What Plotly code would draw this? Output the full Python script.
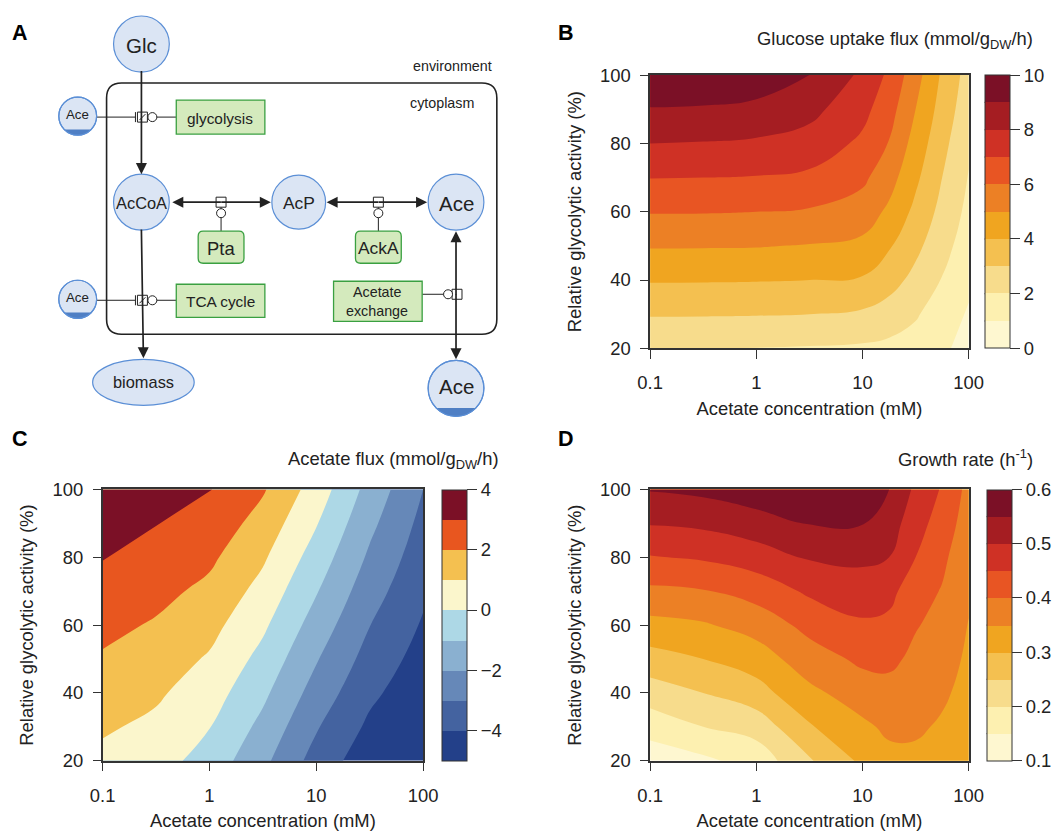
import math
import plotly.graph_objects as go

W, H = 1062, 838
FONT = "Liberation Sans, Arial, sans-serif"
# the page is photographed slightly reduced; pre-compensate positions and sizes
SX, OX, SY, OY = 0.978, 11.0, 0.974, 9.0
FS = 1.0 / 0.976

# ---------------- data ----------------
acetate_mM = [0.1, 0.316, 1, 3.16, 10, 31.6, 100]
acetate_mM_fine = [0.1, 0.316, 1, 3.16, 10, 17.8, 31.6, 56.2, 100]
glyc_activity = [20, 30, 40, 50, 60, 70, 80, 90, 100]
x_tickvals = [0.1, 1, 10, 100]
x_ticktext = ["0.1", "1", "10", "100"]

glucose_uptake = [
    [2.05, 2.02, 1.98, 1.93, 1.85, 1.75, 1.60, 1.20, 0.60],
    [3.08, 3.07, 3.05, 3.00, 2.85, 2.55, 2.10, 1.50, 0.90],
    [4.08, 4.07, 4.05, 4.00, 3.90, 3.40, 2.70, 1.95, 1.20],
    [5.08, 5.07, 5.05, 4.95, 4.75, 4.10, 3.25, 2.35, 1.50],
    [6.06, 6.05, 6.00, 5.90, 5.55, 4.80, 3.75, 2.70, 1.75],
    [7.03, 7.00, 6.95, 6.80, 6.20, 5.40, 4.20, 3.00, 1.95],
    [8.00, 7.95, 7.85, 7.60, 6.80, 5.95, 4.60, 3.30, 2.15],
    [8.95, 8.90, 8.75, 8.30, 7.30, 6.40, 5.00, 3.60, 2.40],
    [9.85, 9.80, 9.60, 9.00, 7.80, 6.80, 5.40, 3.85, 2.60],
]
acetate_flux = [
    [0.75, 0.40, -0.40, -1.75, -3.40, -4.60, -5.20],
    [1.13, 0.78, 0.03, -1.27, -2.91, -4.19, -4.93],
    [1.51, 1.15, 0.46, -0.79, -2.41, -3.79, -4.65],
    [1.89, 1.53, 0.89, -0.31, -1.92, -3.38, -4.38],
    [2.27, 1.90, 1.32, 0.18, -1.43, -2.98, -4.10],
    [2.66, 2.28, 1.76, 0.66, -0.93, -2.57, -3.83],
    [3.04, 2.65, 2.19, 1.14, -0.44, -2.16, -3.55],
    [3.42, 3.03, 2.62, 1.62, 0.06, -1.76, -3.28],
    [3.85, 3.50, 3.05, 2.10, 0.55, -1.35, -3.00],
]
growth_rate = [
    [0.120, 0.140, 0.170, 0.245, 0.310, 0.335, 0.335, 0.325, 0.310],
    [0.170, 0.200, 0.220, 0.295, 0.340, 0.360, 0.360, 0.342, 0.320],
    [0.225, 0.250, 0.280, 0.338, 0.375, 0.385, 0.375, 0.360, 0.330],
    [0.280, 0.300, 0.325, 0.377, 0.410, 0.410, 0.390, 0.375, 0.340],
    [0.335, 0.345, 0.370, 0.415, 0.443, 0.438, 0.403, 0.387, 0.348],
    [0.390, 0.397, 0.420, 0.458, 0.475, 0.465, 0.420, 0.397, 0.358],
    [0.447, 0.456, 0.475, 0.505, 0.510, 0.500, 0.450, 0.410, 0.367],
    [0.503, 0.510, 0.530, 0.552, 0.552, 0.525, 0.470, 0.428, 0.376],
    [0.553, 0.562, 0.578, 0.600, 0.585, 0.550, 0.490, 0.445, 0.385],
]

warm = ["#fef7d0", "#fdf0b0", "#f7dc8c", "#f4c050", "#f0a520",
        "#ec8025", "#e85523", "#cf3125", "#a51d22", "#7b1026"]
divergent = ["#234089", "#4463a0", "#6688b8", "#8ab0d0", "#add8e6",
             "#fbf6cc", "#f4c050", "#e8561f", "#7b1026"]


def steps(colors):
    n = len(colors)
    cs = []
    for i, c in enumerate(colors):
        cs.append([i / n, c])
        cs.append([(i + 1) / n, c])
    return cs


def fx(x):
    return ((x - OX) / SX) / W


def fy(y):
    return 1 - ((y - OY) / SY) / H


def px(x, y):
    return fx(x), fy(y)


def fs(s):
    return round(s * FS, 1)


fig = go.Figure()
shapes = []
annots = []

boxes = {
    "B": (651, 971, 73, 346),
    "C": (101, 423, 487, 758),
    "D": (651, 971, 487, 758),
}
cbx = {"B": 987, "C": 442, "D": 989}
CBW = 24


def add_panel(key, axn, xs, z, colors, zmin, zmax, size, tickvals, ticktext):
    x0, x1, yt, yb = boxes[key]
    suffix = "" if axn == 1 else str(axn)
    fig.add_trace(go.Contour(
        x=xs, y=glyc_activity, z=z,
        xaxis="x" + suffix, yaxis="y" + suffix,
        zmin=zmin, zmax=zmax, zauto=False,
        colorscale=steps(colors),
        contours=dict(start=zmin + size, end=zmax - size, size=size, coloring="fill"),
        line=dict(width=0, smoothing=1.3),
        hoverinfo="skip",
        colorbar=dict(
            x=fx(cbx[key]), xanchor="left", xref="paper", xpad=0, ypad=0,
            y=(fy(yt) + fy(yb)) / 2, yanchor="middle",
            len=fy(yt) - fy(yb), lenmode="fraction",
            thickness=CBW / SX, thicknessmode="pixels",
            outlinewidth=1, outlinecolor="#333",
            ticks="outside", ticklen=10, tickwidth=1.2, tickcolor="#333",
            tickvals=tickvals, ticktext=ticktext,
            tickfont=dict(family=FONT, size=fs(18), color="#222"),
        ),
    ))
    ax = dict(
        domain=[fx(x0), fx(x1)], type="log", range=[-1, 2],
        tickvals=x_tickvals, ticktext=x_ticktext,
        ticks="outside", ticklen=9, tickwidth=1.2, tickcolor="#333",
        ticklabelstandoff=8,
        showline=True, linecolor="#333", linewidth=1.5, mirror=True,
        showgrid=False, zeroline=False,
        tickfont=dict(family=FONT, size=fs(18), color="#222"),
        title=dict(text="Acetate concentration (mM)", standoff=10,
                   font=dict(family=FONT, size=fs(18), color="#222")),
        anchor="y" + suffix,
    )
    ay = dict(
        domain=[fy(yb), fy(yt)], range=[20, 100],
        tickvals=[20, 40, 60, 80, 100],
        ticks="outside", ticklen=8, tickwidth=1.2, tickcolor="#333",
        ticklabelstandoff=6,
        showline=True, linecolor="#333", linewidth=1.5, mirror=True,
        showgrid=False, zeroline=False,
        tickfont=dict(family=FONT, size=fs(18), color="#222"),
        title=dict(text="Relative glycolytic activity (%)", standoff=14,
                   font=dict(family=FONT, size=fs(18), color="#222")),
        anchor="x" + suffix,
    )
    fig.update_layout(**{"xaxis" + suffix: ax, "yaxis" + suffix: ay})
    n = len(colors)
    for i in range(1, n):
        yy = yb - (yb - yt) * i / n
        shapes.append(dict(type="line", xref="paper", yref="paper",
                           x0=fx(cbx[key]), x1=fx(cbx[key] + CBW),
                           y0=fy(yy), y1=fy(yy),
                           line=dict(color="#333", width=1.2)))


add_panel("B", 1, acetate_mM_fine, glucose_uptake, warm, 0, 10, 1,
          [0, 2, 4, 6, 8, 10], ["0", "2", "4", "6", "8", "10"])
add_panel("C", 2, acetate_mM, acetate_flux, divergent, -5, 4, 1,
          [-4, -2, 0, 2, 4], ["\u22124", "\u22122", "0", "2", "4"])
add_panel("D", 3, acetate_mM_fine, growth_rate, warm, 0.1, 0.6, 0.05,
          [0.1, 0.2, 0.3, 0.4, 0.5, 0.6], ["0.1", "0.2", "0.3", "0.4", "0.5", "0.6"])


def text(x, y, s, size=15, anchor="center", bold=False, color="#222"):
    X, Y = px(x, y)
    annots.append(dict(x=X, y=Y, xref="paper", yref="paper", text=("<b>%s</b>" % s) if bold else s,
                       showarrow=False, xanchor=anchor, yanchor="middle", borderpad=0,
                       font=dict(family=FONT, size=fs(size), color=color)))


text(18, 31, "A", 21, "center", True, "#000")
text(566, 31, "B", 21, "center", True, "#000")
text(18, 437, "C", 21, "center", True, "#000")
text(566, 437, "D", 21, "center", True, "#000")
text(1037, 38, "Glucose uptake flux (mmol/g<sub>DW</sub>/h)", 18, "right")
text(500, 458, "Acetate flux (mmol/g<sub>DW</sub>/h)", 18, "right")
text(1037, 456, "Growth rate (h<sup>-1</sup>)", 18, "right")

# ---------- panel A diagram ----------
NODE_FILL = "#dbe5f4"
NODE_LINE = "#5b8fd6"
BOX_FILL = "#d4eabd"
BOX_LINE = "#3aa041"


def circle(cx, cy, r, fill=NODE_FILL, line=NODE_LINE, lw=1.2, rx=None):
    rx = rx or r
    x0, y0 = px(cx - rx, cy - r)
    x1, y1 = px(cx + rx, cy + r)
    shapes.append(dict(type="circle", xref="paper", yref="paper", x0=x0, x1=x1, y0=y1, y1=y0,
                       fillcolor=fill, line=dict(color=line, width=lw), layer="above"))


def segment(cx, cy, r, depth):
    h = r - depth
    a0 = math.acos(h / r)
    pts = []
    for k in range(21):
        a = -a0 + 2 * a0 * k / 20
        pts.append((cx + r * math.sin(a), cy + r * math.cos(a)))
    path = "M " + " L ".join("%f,%f" % px(*p) for p in pts) + " Z"
    shapes.append(dict(type="path", xref="paper", yref="paper", path=path,
                       fillcolor="#4f7fc4", line=dict(width=0), layer="above"))


def rect(x0, y0, x1, y1, fill, line, lw=1.3):
    a, b = px(x0, y0)
    c, d = px(x1, y1)
    shapes.append(dict(type="rect", xref="paper", yref="paper", x0=a, x1=c, y0=d, y1=b,
                       fillcolor=fill, line=dict(color=line, width=lw), layer="above"))


def line(x0, y0, x1, y1, lw=1.6, color="#222"):
    a, b = px(x0, y0)
    c, d = px(x1, y1)
    shapes.append(dict(type="line", xref="paper", yref="paper", x0=a, x1=c, y0=b, y1=d,
                       line=dict(color=color, width=lw), layer="above"))


def arrow(xs, ys, xe, ye):
    X, Y = px(xe, ye)
    annots.append(dict(x=X, y=Y, xref="paper", yref="paper",
                       ax=(xs - xe) / SX, ay=(ys - ye) / SY,
                       axref="pixel", ayref="pixel", showarrow=True, arrowhead=2,
                       arrowsize=1.3, arrowwidth=1.7, arrowcolor="#222", text=""))


def rounded_rect(x0, y0, x1, y1, r, color="#222", lw=1.6, fill=None):
    p = [
        "M %f,%f" % px(x0 + r, y0), "L %f,%f" % px(x1 - r, y0),
        "Q %f,%f %f,%f" % (*px(x1, y0), *px(x1, y0 + r)), "L %f,%f" % px(x1, y1 - r),
        "Q %f,%f %f,%f" % (*px(x1, y1), *px(x1 - r, y1)), "L %f,%f" % px(x0 + r, y1),
        "Q %f,%f %f,%f" % (*px(x0, y1), *px(x0, y1 - r)), "L %f,%f" % px(x0, y0 + r),
        "Q %f,%f %f,%f" % (*px(x0, y0), *px(x0 + r, y0)), "Z"]
    shapes.append(dict(type="path", xref="paper", yref="paper", path=" ".join(p),
                       fillcolor=fill or "rgba(0,0,0,0)", line=dict(color=color, width=lw),
                       layer="above"))


rounded_rect(105, 81, 497, 332, 15)
text(493, 64, "environment", 14, "right")
text(475, 101, "cytoplasm", 14, "right")

arrow(140, 70, 140, 172)
arrow(140, 229, 142, 356)
arrow(220, 200, 171, 200)
arrow(220, 200, 270, 200)
arrow(378, 200, 326, 200)
arrow(378, 200, 427, 200)
arrow(456, 292, 456, 229)
arrow(456, 292, 456, 357)

for yy in (115, 298):
    line(95, yy, 134, yy, 1.0)
    line(134, yy - 5, 134, yy + 5, 1.0)
    line(155, yy, 175, yy, 1.0)
line(220, 205, 220, 229, 1.0)
line(378, 205, 378, 229, 1.0)
line(422, 292, 448, 292, 1.0)

for (cx, cy) in [(141, 115), (141, 298)]:
    rect(136, cy - 5, 146, cy + 5, "white", "#222", 1.0)
    line(138, cy + 3, 144, cy - 3, 1.0)
    circle(151, cy, 4.5, "white", "#222", 1.0)
for cx in (220, 378):
    rect(cx - 5, 195, cx + 5, 205, "white", "#222", 1.0)
    circle(cx, 211, 4.5, "white", "#222", 1.0)
rect(452, 287, 462, 297, "white", "#222", 1.0)
circle(448, 292, 4.5, "white", "#222", 1.0)

circle(140, 42, 28)
text(140, 43, "Glc", 20)
circle(140, 200, 28)
text(140, 201, "AcCoA", 16)
circle(298, 200, 27)
text(298, 201, "AcP", 17)
circle(456, 200, 28)
text(456, 201, "Ace", 20)
for (cx, cy, r, fsz) in [(76, 114, 19, 13), (76, 297, 19, 13), (456, 386, 28, 20)]:
    circle(cx, cy, r)
    segment(cx, cy, r, r * 0.3)
    circle(cx, cy, r, "rgba(0,0,0,0)")
    text(cx, cy - 2, "Ace", fsz)
circle(142, 380, 23, rx=51)
text(142, 380, "biomass", 16)

rect(175, 98, 264, 132, BOX_FILL, BOX_LINE)
text(219, 116, "glycolysis", 15)
rect(175, 282, 264, 315, BOX_FILL, BOX_LINE)
text(219, 299, "TCA cycle", 15)
rounded_rect(197, 229, 243, 261, 5, BOX_LINE, 1.3, BOX_FILL)
text(220, 246, "Pta", 18)
rounded_rect(355, 229, 401, 261, 5, BOX_LINE, 1.3, BOX_FILL)
text(378, 246, "AckA", 17)
rect(333, 279, 422, 319, BOX_FILL, BOX_LINE)
text(377, 290, "Acetate", 14)
text(377, 309, "exchange", 14)

fig.update_layout(
    width=W, height=H, autosize=False, margin=dict(l=0, r=0, t=0, b=0),
    paper_bgcolor="white", plot_bgcolor="white",
    showlegend=False, shapes=shapes, annotations=annots,
    font=dict(family=FONT, color="#222"),
)
fig.write_html("out.html", config={"displayModeBar": False},
               post_script="document.body.style.margin='0';document.body.style.overflow='hidden';")
